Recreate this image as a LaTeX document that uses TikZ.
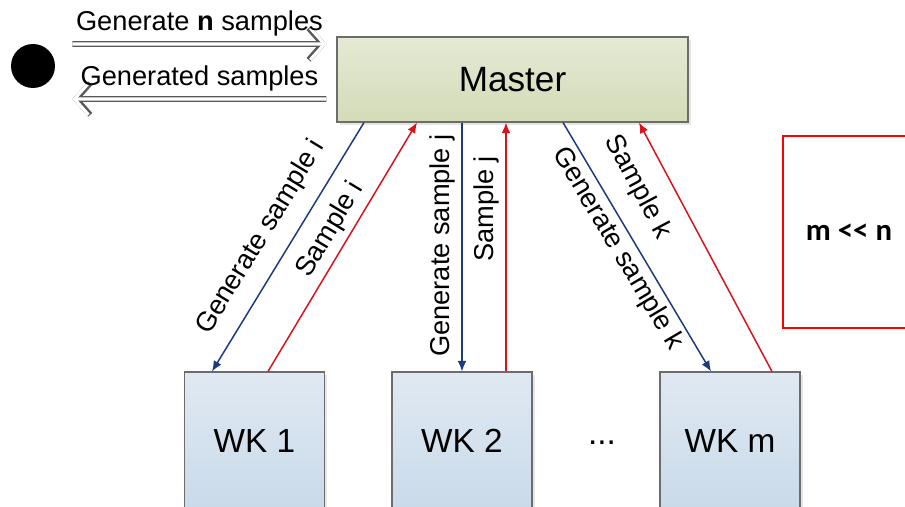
\documentclass[tikz,border=0pt]{standalone}
\usepackage{fontspec}
\setmainfont{Liberation Sans}
\newfontfamily\notefont{Carlito}
\usepackage{xcolor}
\usetikzlibrary{arrows.meta, positioning, shadows}

\definecolor{mastertop}{HTML}{E4EAD4}
\definecolor{masterbot}{HTML}{D3DBB8}
\definecolor{wktop}{HTML}{E0E9F2}
\definecolor{wkbot}{HTML}{C9DAEA}
\definecolor{reqblue}{HTML}{1C3A82}
\definecolor{ansred}{HTML}{D7131C}

\begin{document}
\begin{tikzpicture}[
  lbl/.style={font=\fontsize{15.5}{18}\selectfont},
  box/.style={draw=gray!85!black, line width=0.6pt,
    drop shadow={opacity=0.2, shadow xshift=1.5pt, shadow yshift=-1.5pt}},
  wk/.style={box, top color=wktop, bottom color=wkbot, minimum width=2.8cm,
    minimum height=2.76cm, font=\fontsize{19}{22}\selectfont},
  req/.style={draw=reqblue, line width=0.85pt, -{Latex[length=6pt,width=5pt]}},
  ans/.style={draw=ansred, line width=0.85pt, -{Latex[length=6pt,width=5pt]}},
  hollow/.style={draw=white, line width=1.8pt, -{Straight Barb[length=8pt,width=18pt]},
    preaction={draw=gray!70!black, line width=3.2pt, -{Straight Barb[length=8pt,width=18pt]}}}
]
\useasboundingbox (0,0) rectangle (18.1,10.12);

\node[circle, fill=black, minimum size=0.88cm, inner sep=0pt] (user) at (0.66,8.8) {};
\node[box, top color=mastertop, bottom color=masterbot, minimum width=7.02cm,
  minimum height=1.7cm, font=\fontsize{20}{24}\selectfont] (master) at (10.25,8.53) {Master};

\node[wk] (wk1) at (5.09,1.30) {WK 1};
\node[wk] (wk2) at (9.24,1.30) {WK 2};
\node[wk] (wkm) at (14.6,1.30) {WK m};
\node[font=\fontsize{19}{22}\selectfont] (dots) at (12.04,1.27) {...};

\node[draw=red, line width=1.2pt, minimum width=2.64cm, minimum height=3.84cm,
  font=\notefont\bfseries\fontsize{17.5}{20}\selectfont] (note) at (16.98,5.48) {m <\kern0pt< n};

\draw[hollow] ([xshift=0.34cm,yshift=0.44cm]user.east) -- ([xshift=-0.2cm,yshift=0.71cm]master.west)
  node[lbl, midway, above] {Generate \textbf{n} samples};
\draw[hollow] ([xshift=-0.2cm,yshift=-0.39cm]master.west) -- ([xshift=0.34cm,yshift=-0.66cm]user.east)
  node[lbl, midway, above] {Generated samples};

\draw[req] ([xshift=-2.97cm]master.south) -- ([xshift=-0.85cm]wk1.north)
  node[lbl, pos=0.52, sloped, above=5pt] {Generate sample i};
\draw[ans] ([xshift=0.27cm]wk1.north) -- ([xshift=-1.91cm]master.south)
  node[lbl, pos=0.53, sloped, above] {Sample i};
\draw[req] (master.south -| wk2.north) -- (wk2.north)
  node[lbl, pos=0.48, rotate=90, above=-2pt] {Generate sample j};
\draw[ans] ([xshift=0.88cm]wk2.north) -- ([xshift=0.88cm]master.south -| wk2.north)
  node[lbl, pos=0.66, rotate=90, above=-1pt] {Sample j};
\draw[req] ([xshift=1.01cm]master.south) -- ([xshift=-0.38cm]wkm.north)
  node[lbl, pos=0.47, sloped, below=-1pt] {Generate sample k};
\draw[ans] ([xshift=0.84cm]wkm.north) -- ([xshift=2.53cm]master.south)
  node[lbl, pos=0.8, sloped, below=7pt] {Sample k};
\end{tikzpicture}
\end{document}
